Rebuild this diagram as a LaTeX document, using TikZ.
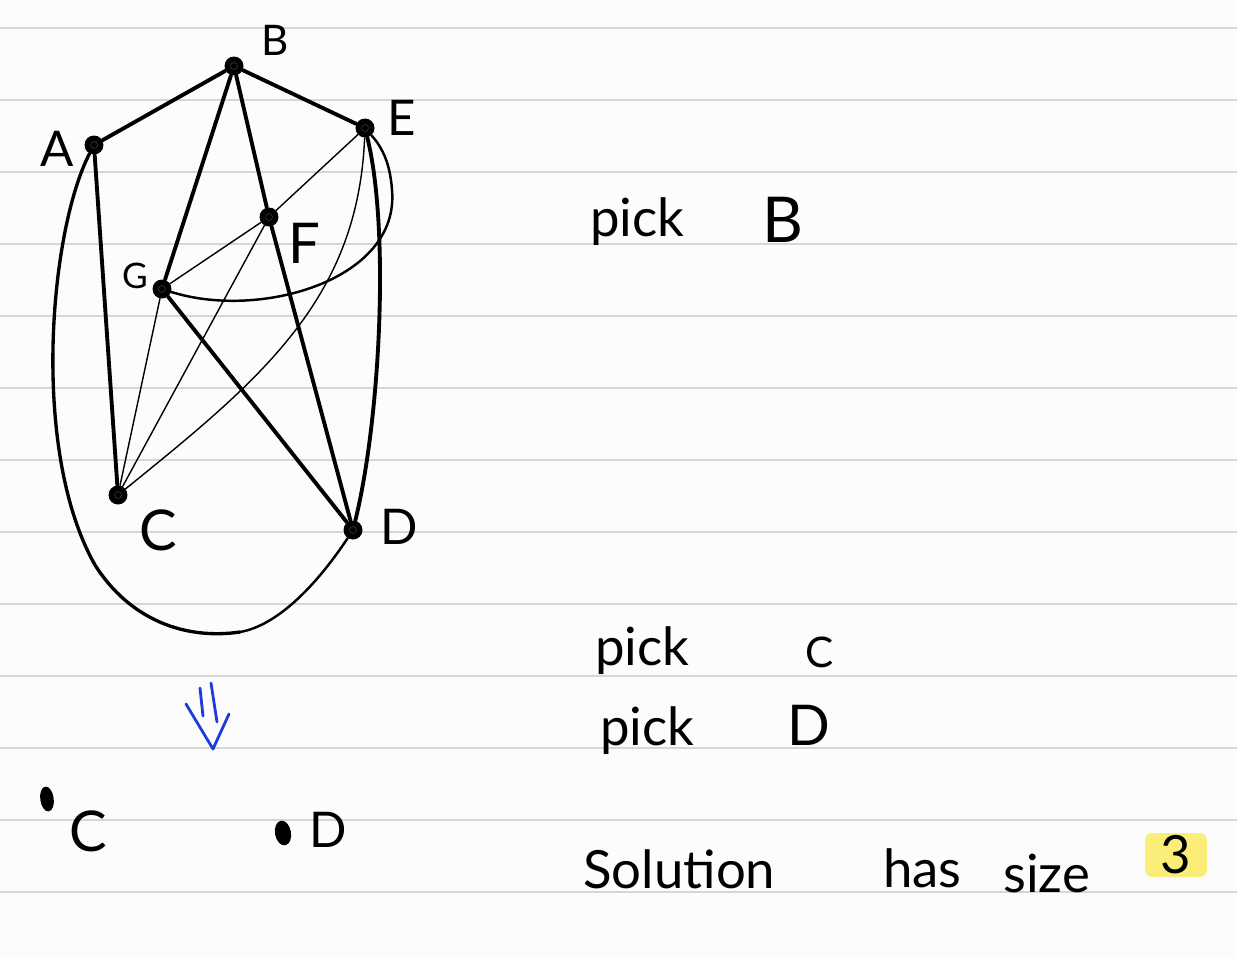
\documentclass[tikz,border=0pt]{standalone}
\usepackage{xcolor}
\usepackage{fontspec}
\setmainfont{Lato}
\usepackage{tikz}
\usetikzlibrary{positioning, shapes.geometric, calc}

\definecolor{paper}{RGB}{252,252,252}
\definecolor{ruleline}{RGB}{214,214,214}
\definecolor{penblue}{RGB}{30,60,215}
\definecolor{marker}{RGB}{250,238,120}

\begin{document}
\begin{tikzpicture}[x=0.02cm, y=-0.02cm,
  vtx/.style={circle, fill=black, inner sep=0pt, minimum size=0.38cm,
    path picture={\draw[black!75, line width=0.3pt] (path picture bounding box.center) circle (0.07cm);}},
  blob/.style={ellipse, fill=black, inner sep=0pt, minimum width=0.27cm, minimum height=0.5cm},
  lbl/.style={font=\fontsize{28}{32}\selectfont, inner sep=0pt},
  word/.style={font=\fontsize{30}{36}\selectfont, inner sep=0pt, anchor=base west},
  heavy/.style={line width=2.2pt, line cap=round},
  medium/.style={line width=1.4pt, line cap=round},
  light/.style={line width=0.8pt, line cap=round}]

% Paper
\fill[paper] (0,0) rectangle (1237,958);
\useasboundingbox (0,0) rectangle (1237,958);
\foreach \y in {28,100,...,892} \draw[ruleline, line width=1.2pt] (0,\y) -- (1237,\y);

% Nodes
\node[vtx] (B) at (234,66) {};
\node[vtx] (A) at (94,145) {};
\node[vtx] (E) at (365,128) {};
\node[vtx] (F) at (269,217) {};
\node[vtx] (G) at (162,289) {};
\node[vtx] (C) at (118,495) {};
\node[vtx] (D) at (353,530) {};
\coordinate (low) at (240,632);

% Labels
\node[lbl, font=\fontsize{24}{28}\selectfont] (labB) at (275,40) {B};
\node[lbl] (labA) at (57,149) {A};
\node[lbl] (labE) at (402,118) {E};
\node[lbl, font=\fontsize{32}{36}\selectfont] (labF) at (304,243) {F};
\node[lbl, font=\fontsize{20}{24}\selectfont] (labG) at (135,276) {G};
\node[lbl, font=\fontsize{32}{36}\selectfont] (labC) at (158,530) {C};
\node[lbl] (labD) at (399,527) {D};

% Edges
\draw[heavy] (A) -- (B);
\draw[heavy] (B) -- (E);
\draw[heavy] (B) -- (G);
\draw[heavy] (B) -- (F);
\draw[heavy] (F) -- (D);
\draw[heavy] (A) -- (C);
\draw[heavy] (G) -- (D);
\draw[heavy] (E) .. controls (390,230) and (380,420) .. (D);
\draw[line width=1.9pt, line cap=round] (A) .. controls (50,230) and (30,450) .. (95,565) .. controls (130,620) and (185,640) .. (low);
\draw[medium] (low) .. controls (280,625) and (320,580) .. (D);
\draw[light] (E) -- (F);
\draw[light] (G) -- (F);
\draw[light] (F) -- (C);
\draw[light] (G) -- (C);
\draw[light] (E) .. controls (358,300) and (260,380) .. (C);
\draw[medium] (G) .. controls (260,320) and (400,280) .. (392,190) .. controls (390,160) and (380,145) .. (E);

% Double arrow down
\draw[penblue, line width=1.6pt, line cap=round] (200,688) -- (203,716);
\draw[penblue, line width=1.6pt, line cap=round] (211,683) -- (217,722);
\draw[penblue, line width=1.6pt, line cap=round, line join=round] (186,704) -- (213,749) -- (229,714);

% Result
\node[blob, rotate=8] (C2) at (47,799) {};
\node[blob, minimum width=0.32cm, minimum height=0.5cm, rotate=10] (D2) at (283,833) {};
\node[lbl, font=\fontsize{32}{36}\selectfont] (labC2) at (88,831) {C};
\node[lbl] (labD2) at (328,830) {D};

% Notes
\node[word] (pick1) at (590,236) {pick};
\node[word, font=\fontsize{36}{40}\selectfont] (pickB) at (762,242) {B};
\node[word] (pick2) at (595,665) {pick};
\node[word, font=\fontsize{24}{28}\selectfont] (pickC) at (805,667) {C};
\node[word] (pick3) at (600,745) {pick};
\node[word, font=\fontsize{32}{36}\selectfont] (pickD) at (787,745) {D};
\node[word] (sol) at (583,888) {Solution};
\node[word] (has) at (883,887) {has};
\node[word] (size) at (1003,892) {size};
\node[fill=marker, rounded corners=4pt, inner sep=0pt, minimum width=1.24cm, minimum height=0.88cm,
  font=\fontsize{30}{34}\selectfont] (three) at (1176,855) {3};

\end{tikzpicture}
\end{document}
